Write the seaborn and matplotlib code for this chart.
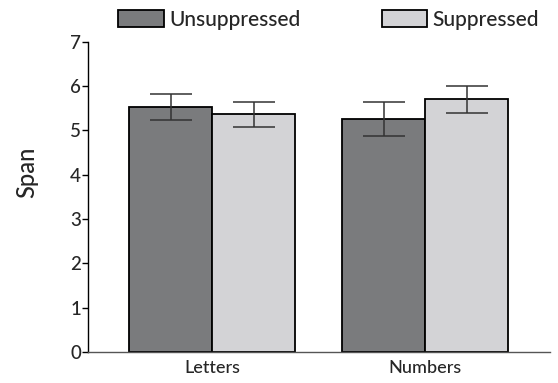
import pandas as pd
import numpy as np
import matplotlib
matplotlib.use("Agg")
import matplotlib.pyplot as plt
import seaborn as sns

# data
tasks = ["Letters", "Numbers"]
conditions = ["Unsuppressed", "Suppressed"]
unsuppressed_mean = [5.52, 5.25]
unsuppressed_err = [0.29, 0.38]
suppressed_mean = [5.36, 5.70]
suppressed_err = [0.28, 0.31]
y_ticks = [0, 1, 2, 3, 4, 5, 6, 7]

df = pd.DataFrame({
    "task": tasks * 2,
    "condition": [conditions[0]] * 2 + [conditions[1]] * 2,
    "span": unsuppressed_mean + suppressed_mean,
    "err": unsuppressed_err + suppressed_err,
})

sns.set_style("white")
plt.rcParams["font.family"] = ["Lato", "DejaVu Sans"]
plt.rcParams["font.weight"] = "medium"

dark = "#7a7b7d"
light = "#d3d2d7"

fig = plt.figure(figsize=(5.58, 3.83), dpi=100)
ax = fig.add_axes([0.158, 0.081, 0.828, 0.810])

sns.barplot(data=df, x="task", y="span", hue="condition", hue_order=conditions,
            palette=[dark, light], width=0.78, edgecolor="black", linewidth=1.3,
            errorbar=None, ax=ax)

# error bars at the bar centres, one container per condition
err_lists = [unsuppressed_err, suppressed_err]
for cont, errs in zip(ax.containers, err_lists):
    xs = [p.get_x() + p.get_width() / 2 for p in cont.patches]
    ys = [p.get_height() for p in cont.patches]
    ax.errorbar(xs, ys, yerr=errs, fmt="none", ecolor="#333333",
                elinewidth=1.1, capsize=15, capthick=1.1, zorder=3)

ax.set_xlim(-0.582, 1.587)
ax.set_ylim(0, 7)
ax.set_yticks(y_ticks)
ax.tick_params(axis="y", direction="out", length=4, width=1, color="black",
               labelsize=13.5, pad=1, left=True)
ax.tick_params(axis="x", length=0, labelsize=13, pad=6)
ax.set_xlabel("")
ax.set_ylabel("Span", fontsize=17, fontweight="medium")
ax.yaxis.set_label_coords(-0.109, 0.58)

sns.despine(ax=ax, top=True, right=True)
ax.spines["left"].set_color("black")
ax.spines["left"].set_linewidth(1.0)
ax.spines["bottom"].set_color("#555555")
ax.spines["bottom"].set_linewidth(1.0)

handles, labels = ax.get_legend_handles_labels()
ax.get_legend().remove()
fig.legend(handles, labels, loc="center left", bbox_to_anchor=(118 / 558, 1 - 19.5 / 383),
           ncol=2, frameon=False, fontsize=15, handlelength=2.2, handleheight=0.9,
           handletextpad=0.25, columnspacing=3.9, borderpad=0, borderaxespad=0)

fig.savefig("out.png", dpi=100)
